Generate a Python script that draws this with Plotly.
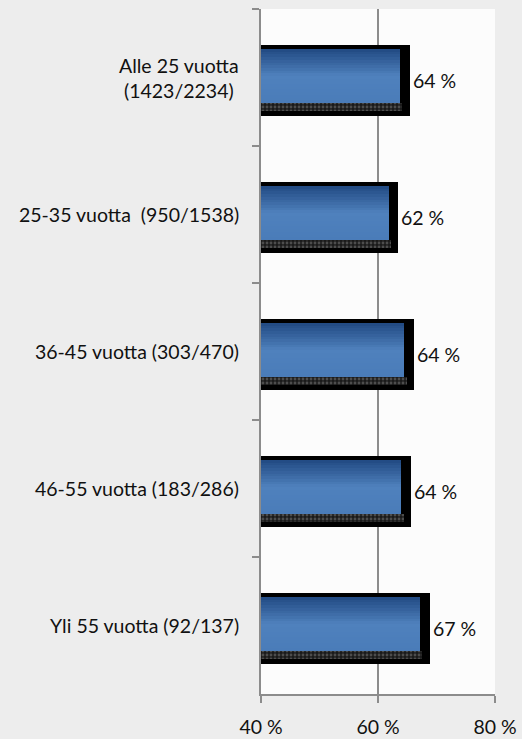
import plotly.graph_objects as go

categories = ["Alle 25 vuotta<br>(1423/2234)", "25-35 vuotta\u00a0 (950/1538)", "36-45 vuotta (303/470)",
              "46-55 vuotta (183/286)", "Yli 55 vuotta (92/137)"]
values = [63.7, 61.8, 64.5, 64.0, 67.2]
value_labels = ["64 %", "62 %", "64 %", "64 %", "67 %"]
x_ticks = [40, 60, 80]

FONT = "Lato"
FS = 19.5
SHADOW_EXTRA = 1.7  # percent units of the black frame beyond the blue bar

fig = go.Figure()

# black frame / shadow
fig.add_trace(go.Bar(
    y=categories, x=[v + SHADOW_EXTRA for v in values], orientation="h",
    offset=-0.237, width=0.518, marker=dict(color="#000000", line=dict(width=0)),
    text=value_labels, textposition="outside", cliponaxis=False,
    textfont=dict(family=FONT, size=FS, color="#111111"), hoverinfo="skip"))

# dotted dark band at bottom of blue bar
fig.add_trace(go.Bar(
    y=categories, x=[v + 0.4 for v in values], orientation="h",
    offset=0.186, width=0.06,
    marker=dict(color="#1a1a1a", line=dict(width=0),
                pattern=dict(shape=".", fgcolor="#808080", bgcolor="#1a1a1a", size=4, solidity=0.4)),
    hoverinfo="skip", textposition="none"))

# blue gradient bar built from thin slices
def lerp(c1, c2, t):
    a = [int(c1[i:i + 2], 16) for i in (1, 3, 5)]
    b = [int(c2[i:i + 2], 16) for i in (1, 3, 5)]
    return "#%02x%02x%02x" % tuple(round(a[k] + (b[k] - a[k]) * t) for k in range(3))

top, bottom = -0.208, 0.186
n = 20
h = (bottom - top) / n
for i in range(n):
    t = i / (n - 1)
    if t < 0.5:
        col = lerp("#234c85", "#4f81bd", t / 0.5)
    else:
        col = lerp("#4f81bd", "#4a7cb9", (t - 0.5) / 0.5)
    w = h * 2 if i < n - 1 else h
    fig.add_trace(go.Bar(
        y=categories, x=values, orientation="h",
        offset=top + i * h, width=w,
        marker=dict(color=col, line=dict(width=0)),
        hoverinfo="skip", textposition="none"))

# category labels as annotations (centered multi-line)
for c in categories:
    fig.add_annotation(x=0, xref="paper", y=c, yref="y", text=c, showarrow=False,
                       xanchor="right", xshift=-20, align="center",
                       font=dict(family=FONT, size=FS, color="#111111"))

fig.update_layout(
    width=522, height=739,
    margin=dict(l=261, r=27, t=9, b=45, autoexpand=False),
    paper_bgcolor="#ededed", plot_bgcolor="#fcfcfc",
    barmode="overlay", showlegend=False, bargap=0,
    font=dict(family=FONT, size=FS, color="#111111"),
)
fig.update_xaxes(range=[40, 80], tickvals=x_ticks, ticktext=[f"{v} %" for v in x_ticks],
                 showgrid=True, gridcolor="#8c8c8c", gridwidth=2,
                 showline=True, linecolor="#8c8c8c", linewidth=2,
                 ticks="outside", ticklen=7, tickwidth=2, tickcolor="#8c8c8c",
                 ticklabelstandoff=8, automargin=False,
                 tickfont=dict(family=FONT, size=FS, color="#111111"),
                 zeroline=False, fixedrange=True)
fig.update_yaxes(autorange="reversed", type="category", showticklabels=False,
                 showline=True, linecolor="#8c8c8c", linewidth=2, automargin=False,
                 ticks="outside", tickson="boundaries", ticklen=7, tickwidth=2, tickcolor="#8c8c8c",
                 showgrid=False, fixedrange=True)

fig.write_html("out.html", config={"displayModeBar": False},
               post_script="document.body.style.margin='0';document.body.style.background='#ededed';")
